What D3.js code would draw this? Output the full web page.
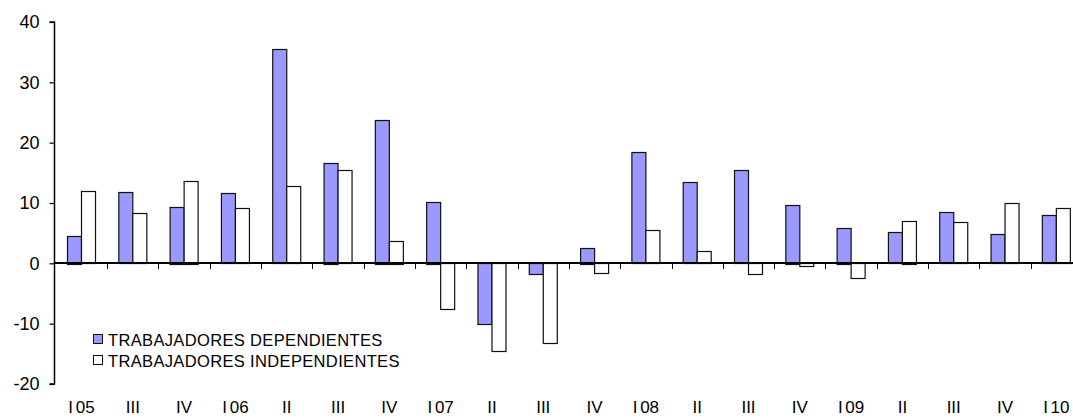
<!DOCTYPE html>
<html>
<head>
<meta charset="utf-8">
<script src="https://cdn.jsdelivr.net/npm/d3@7"></script>
<style>
  body { margin: 0; background: #fff; }
  svg { display: block; font-family: "Liberation Sans", Arial, sans-serif; }
</style>
</head>
<body>
<svg id="chart" width="1073" height="418"></svg>
<script>
// quarter labels as printed under the axis
var quarters = ['I 05', 'III', 'IV', 'I 06', 'II', 'III', 'IV', 'I 07', 'II', 'III', 'IV',
    'I 08', 'II', 'III', 'IV', 'I 09', 'II', 'III', 'IV', 'I 10']
var dependientes = [4.6, 11.8, 9.4, 11.6, 35.5, 16.7, 23.8, 10.2, -10.1, -1.9, 2.6,
    18.4, 13.4, 15.4, 9.75, 5.9, 5.2, 8.5, 4.8, 8.0]
var independientes = [11.95, 8.3, 13.7, 9.1, 12.8, 15.4, 3.75, -7.7, -14.6, -13.3, -1.65,
    5.5, 2.0, -1.9, -0.55, -2.5, 7.05, 6.8, 10.0, 9.1]
var seriesNames = ['TRABAJADORES DEPENDIENTES', 'TRABAJADORES INDEPENDIENTES']
var seriesColors = ['#9999ff', '#ffffff']
var yTicks = [-20, -10, 0, 10, 20, 30, 40]

var svg = d3.select('#chart')
var axisX = 54.5

///////
var y = d3.scaleLinear().domain([-20, 40]).range([384, 22])
var x0 = d3.scaleBand()
    .domain(d3.range(quarters.length))
    .range([55.85, 1082])
    .paddingInner(0.435)
    .paddingOuter(0.2175)
var x1 = d3.scaleBand().domain([0, 1]).range([0, x0.bandwidth()])

var rows = quarters.map(function (q, i) {
    return { i: i, values: [dependientes[i], independientes[i]] }
})

///////
// bars
var groups = svg.append('g').selectAll('g')
    .data(rows).enter().append('g')
    .attr('transform', d => 'translate(' + x0(d.i) + ',0)')

groups.selectAll('rect')
    .data(d => d.values.map((v, k) => ({ k: k, v: v })))
    .enter().append('rect')
    .attr('x', d => Math.round(x1(d.k)) + 0.5)
    .attr('y', d => Math.round(y(Math.max(0, d.v))) + 0.5)
    .attr('width', Math.round(x1.bandwidth()))
    .attr('height', d => Math.max(0, Math.round(Math.abs(y(d.v) - y(0)))))
    .attr('fill', d => seriesColors[d.k])
    .attr('stroke', '#111')
    .attr('stroke-width', 1.2)

///////
// y axis, ticks to the left, plain hyphen for negatives
var yAxis = svg.append('g').attr('transform', 'translate(' + axisX + ',0)')
    .call(d3.axisLeft(y).tickValues(yTicks).tickSize(5).tickPadding(10).tickFormat(d => String(d)))
yAxis.select('.domain').attr('stroke', '#000').attr('stroke-width', 1.5)
    .attr('d', 'M-5,' + y(40) + 'H0V' + y(-20) + 'H-5')
yAxis.selectAll('.tick line').attr('stroke', '#000').attr('stroke-width', 1.2)
yAxis.selectAll('.tick text').attr('font-size', 18).attr('fill', '#000')
    .attr('font-family', '"Liberation Sans", Arial, sans-serif')

///////
// zero line with category separators
var boundaries = d3.range(1, quarters.length).map(i => x0(i) - x0.step() * x0.paddingInner() / 2)
var zero = svg.append('g').attr('transform', 'translate(0,' + Math.round(y(0)) + ')')
zero.append('line')
    .attr('x1', axisX).attr('x2', 1073)
    .attr('stroke', '#000').attr('stroke-width', 2)
zero.selectAll('line.sep')
    .data(boundaries).enter().append('line')
    .attr('class', 'sep')
    .attr('x1', d => Math.round(d) + 0.5).attr('x2', d => Math.round(d) + 0.5)
    .attr('y1', 0).attr('y2', 6)
    .attr('stroke', '#000').attr('stroke-width', 1)

///////
// quarter labels along the bottom
svg.append('g').selectAll('text')
    .data(quarters).enter().append('text')
    .attr('x', (d, i) => x0(i) + x0.bandwidth() / 2)
    .attr('y', 413)
    .attr('text-anchor', 'middle')
    .attr('font-size', 17)
    .attr('word-spacing', -2)
    .attr('fill', '#000')
    .text(d => d)

///////
// legend
var legend = svg.append('g').selectAll('g')
    .data(seriesNames).enter().append('g')
    .attr('transform', (d, i) => 'translate(93,' + (334 + i * 21) + ')')

legend.append('rect')
    .attr('x', 0.5).attr('y', 0.5)
    .attr('width', 9).attr('height', 9)
    .attr('fill', (d, i) => seriesColors[i])
    .attr('stroke', '#111')
    .attr('stroke-width', 1)

legend.append('text')
    .attr('x', 15).attr('y', 12)
    .attr('font-size', 16.5)
    .attr('letter-spacing', 0.35)
    .attr('fill', '#000')
    .text(d => d)
</script>
</body>
</html>
